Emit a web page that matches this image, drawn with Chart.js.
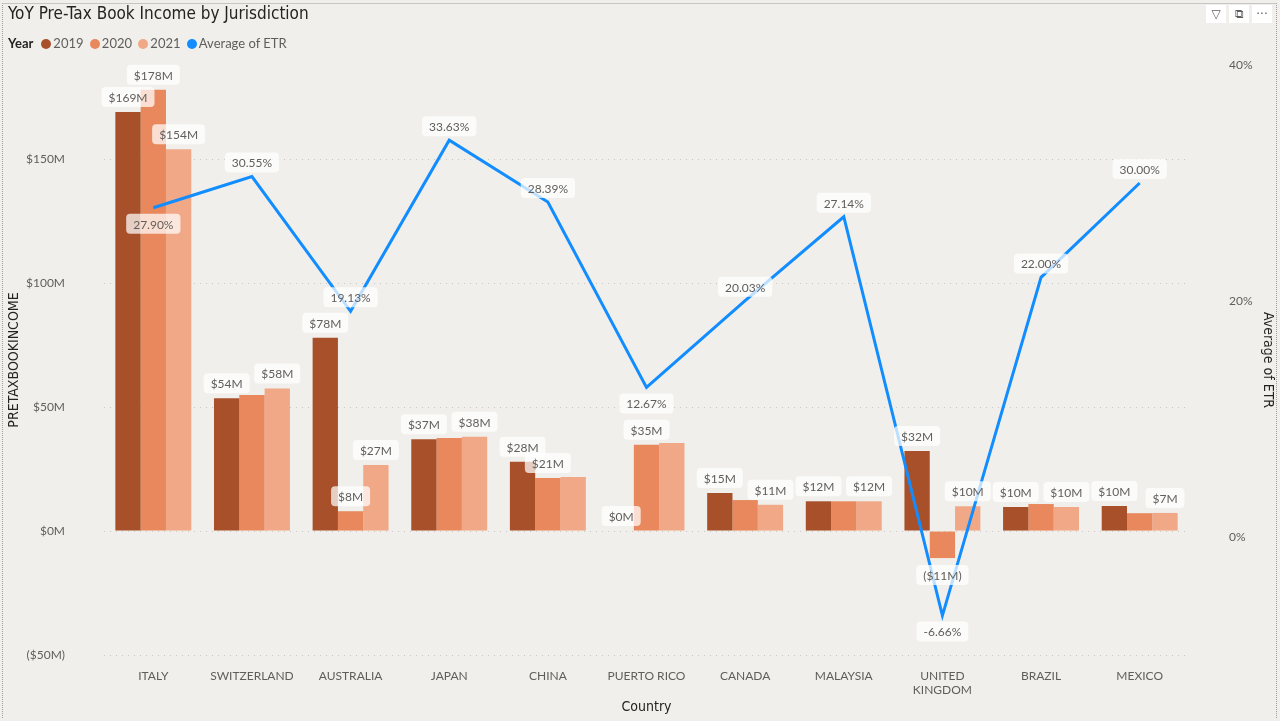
<!DOCTYPE html>
<html>
<head>
<meta charset="utf-8">
<script src="https://cdn.jsdelivr.net/npm/chart.js@4.4.1/dist/chart.umd.min.js"></script>
<style>
  html, body { margin: 0; padding: 0; background: #F1EFEB; }
  #wrap { position: relative; width: 1280px; height: 721px; overflow: hidden; }
  #frame { position: absolute; left: 2px; top: 3px; width: 1275px; height: 715px;
           border-top: 1px solid #C8C6C4; border-left: 1px dotted #A19F9D; border-right: 1px dotted #A19F9D; box-sizing: border-box; }
  #title { position: absolute; left: 8px; top: 3px; font: 17px "DejaVu Sans Condensed", "DejaVu Sans", sans-serif; color: #252423; }
  #legend { position: absolute; left: 8px; top: 35px; font: 13px Lato, "Open Sans", sans-serif; color: #605E5C; white-space: nowrap; }
  #legend b { color: #252423; margin-right: 5px; }
  #legend .dot { display: inline-block; width: 10px; height: 10px; border-radius: 50%; margin: 0 2px 0 3px; vertical-align: -1px; }
  #icons { position: absolute; right: 8px; top: 5px; font: 12px "DejaVu Sans", sans-serif; color: #605E5C; }
  #icons span { display: inline-block; width: 20px; height: 18px; line-height: 18px; text-align: center; background: #fff; margin-left: 3px; }
  canvas { position: absolute; left: 0; top: 0; }
</style>
</head>
<body>
<div id="wrap">
  <canvas id="myChart" width="1280" height="721"></canvas>
  <div id="frame"></div>
  <div id="title">YoY Pre-Tax Book Income by Jurisdiction</div>
  <div id="legend"></div>
  <div id="icons"><span>&#9661;</span><span>&#10697;</span><span>&middot;&middot;&middot;</span></div>
</div>
<script>
// data
const countries = ['ITALY', 'SWITZERLAND', 'AUSTRALIA', 'JAPAN', 'CHINA', 'PUERTO RICO',
                   'CANADA', 'MALAYSIA', ['UNITED', 'KINGDOM'], 'BRAZIL', 'MEXICO']
const years = ['2019', '2020', '2021']
const income2019 = [169, 53.6, 78, 37, 28, 0, 15.3, 12, 32.3, 9.7, 10.1]
const income2020 = [178, 54.9, 8, 37.5, 21.4, 34.8, 12.5, 12, -10.9, 10.9, 7.2]
const income2021 = [154, 57.5, 26.6, 38, 21.8, 35.5, 10.6, 12, 10, 9.7, 7.3]
const etr = [27.90, 30.55, 19.13, 33.63, 28.39, 12.67, 20.03, 27.14, -6.66, 22.00, 30.00]
const leftTicks = [-50, 0, 50, 100, 150]
const rightTicks = [0, 20, 40]

// which data labels power bi kept visible
const shown2019 = [1, 1, 1, 1, 1, 1, 1, 1, 1, 1, 1]
const shown2020 = [1, 0, 1, 0, 1, 1, 0, 0, 1, 0, 0]
const shown2021 = [1, 1, 1, 1, 0, 0, 1, 1, 1, 1, 1]
const etrBelow = [1, 0, 0, 0, 0, 1, 0, 0, 1, 0, 0]

const barColors = ['#A8502A', '#E8885C', '#F0A887']
const lineColor = '#118DFF'
const tickFont = { family: 'Lato, "Open Sans", sans-serif', size: 12 }
const titleFont = { family: '"DejaVu Sans Condensed", sans-serif', size: 14 }

let leg = '<b>Year</b>'
years.forEach((y, i) => {
    leg += `<span class="dot" style="background:${barColors[i]}"></span>${y} `
})
leg += `<span class="dot" style="background:${lineColor}"></span>Average of ETR`
document.getElementById('legend').innerHTML = leg

function money(v){
    let r = Math.round(Math.abs(v))
    return v < 0 ? `($${r}M)` : `$${r}M`
}

function drawBox(ctx, text, x, y){
    ctx.font = '12px Lato, "Open Sans", sans-serif'
    let w = ctx.measureText(text).width + 14
    let h = 20
    ctx.fillStyle = 'rgba(255,255,255,0.72)'
    ctx.beginPath()
    ctx.roundRect(x - w / 2, y - h / 2, w, h, 4)
    ctx.fill()
    ctx.fillStyle = '#605E5C'
    ctx.textAlign = 'center'
    ctx.textBaseline = 'middle'
    ctx.fillText(text, x, y + 1)
}

const labelPlugin = {
    id: 'labels',
    afterDatasetsDraw(chart){
        let ctx = chart.ctx
        ctx.save()
        let shown = [shown2019, shown2020, shown2021]
        for(let d = 0 ; d < 3 ; d++)
        {
            let meta = chart.getDatasetMeta(d)
            meta.data.forEach((el, i) => {
                if(!shown[d][i]) return
                let v = chart.data.datasets[d].data[i]
                if(v < 0)
                    drawBox(ctx, money(v), el.x, el.y + 17)
                else
                    drawBox(ctx, money(v), el.x, el.y - 15)
            })
        }
        let lm = chart.getDatasetMeta(3)
        lm.data.forEach((el, i) => {
            let txt = etr[i].toFixed(2) + '%'
            drawBox(ctx, txt, el.x, etrBelow[i] ? el.y + 16 : el.y - 14)
        })
        ctx.restore()
    }
}

const datasets = [income2019, income2020, income2021].map((arr, i) => ({
    type: 'bar',
    label: years[i],
    data: arr,
    backgroundColor: barColors[i],
    yAxisID: 'y',
    order: 1,
    categoryPercentage: 0.77,
    barPercentage: 1.0
}))
datasets.push({
    type: 'line',
    label: 'Average of ETR',
    data: etr,
    borderColor: lineColor,
    borderWidth: 3,
    pointRadius: 0,
    tension: 0,
    yAxisID: 'y1',
    order: 0
})

new Chart(document.getElementById('myChart'), {
    data: { labels: countries, datasets: datasets },
    options: {
        responsive: false,
        animation: false,
        layout: { padding: { top: 65, left: 0, right: 0, bottom: 0 } },
        plugins: { legend: { display: false }, tooltip: { enabled: false } },
        scales: {
            x: {
                grid: { display: false },
                border: { display: false },
                ticks: { color: '#605E5C', font: tickFont, padding: 6, maxRotation: 0, autoSkip: false },
                title: { display: true, text: 'Country', color: '#252423', font: titleFont, padding: { top: 4, bottom: 5 } },
                afterFit(scale){ scale.height = 66 }
            },
            y: {
                position: 'left',
                min: -50, max: 188,
                afterBuildTicks(scale){ scale.ticks = leftTicks.map(v => ({ value: v })) },
                grid: { color: '#C8C6C4', drawTicks: false, lineWidth: 1 },
                border: { display: false, dash: [1, 5] },
                ticks: { color: '#605E5C', font: tickFont, padding: 39, callback: v => money(v) },
                title: { display: true, text: 'PRETAXBOOKINCOME', color: '#252423', font: titleFont, padding: { top: 6, bottom: 4 } },
                afterFit(scale){ scale.width = 104 }
            },
            y1: {
                position: 'right',
                min: -10, max: 40,
                afterBuildTicks(scale){ scale.ticks = rightTicks.map(v => ({ value: v })) },
                grid: { display: false },
                border: { display: false },
                ticks: { color: '#605E5C', font: tickFont, padding: 32, callback: v => v + '%' },
                title: { display: true, text: 'Average of ETR', color: '#252423', font: titleFont, padding: { top: 4, bottom: 4 } },
                afterFit(scale){ scale.width = 91 }
            }
        }
    },
    plugins: [labelPlugin]
})
</script>
</body>
</html>
